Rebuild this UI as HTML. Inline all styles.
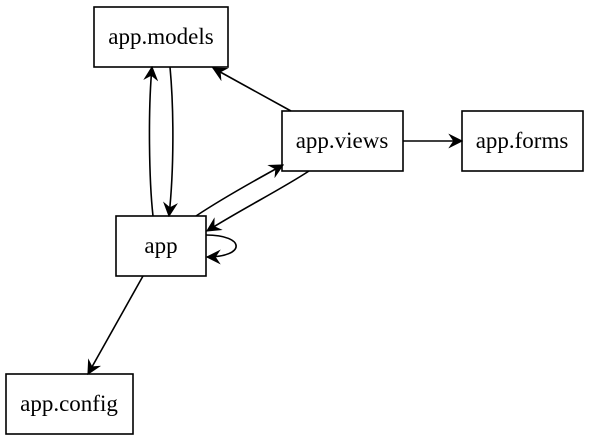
<!DOCTYPE html>
<html><head><style>
html,body{margin:0;padding:0;background:#fff;}
svg{display:block;}
text{font-family:"Liberation Serif",serif;font-size:23px;fill:#000;}
</style></head><body>
<svg width="590" height="441" viewBox="0 0 590 441" xmlns="http://www.w3.org/2000/svg">
<defs>
<marker id="v" viewBox="0 0 12 12" refX="11" refY="6" markerWidth="15" markerHeight="15" markerUnits="userSpaceOnUse" orient="auto">
<path d="M0,0 L12,6 L0,12 L4,6 z" fill="#000"/>
</marker>
</defs>
<g fill="none" stroke="#000" stroke-width="1.6">
<rect x="94" y="7" width="134" height="60"/>
<rect x="282" y="111" width="121" height="60"/>
<rect x="462" y="111" width="121" height="60"/>
<rect x="116" y="216" width="90" height="60"/>
<rect x="6" y="374" width="127" height="60"/>
<path d="M153,216 C149,180 148,110 152,67" marker-end="url(#v)"/>
<path d="M170,67 C174,110 174,170 169,216" marker-end="url(#v)"/>
<path d="M291,111 L213,68" marker-end="url(#v)"/>
<path d="M196,216 C220,200 250,183 283,165" marker-end="url(#v)"/>
<path d="M309,171 C280,190 240,210 207,231" marker-end="url(#v)"/>
<path d="M403,141 L462,141" marker-end="url(#v)"/>
<path d="M206,235 C246,235 246,257 207,257" marker-end="url(#v)"/>
<path d="M143,276 L88,374" marker-end="url(#v)"/>
</g>
<text x="161" y="44" text-anchor="middle">app.models</text>
<text x="342" y="148" text-anchor="middle">app.views</text>
<text x="522" y="148" text-anchor="middle">app.forms</text>
<text x="161" y="253" text-anchor="middle">app</text>
<text x="69" y="411" text-anchor="middle">app.config</text>
</svg>
</body></html>
